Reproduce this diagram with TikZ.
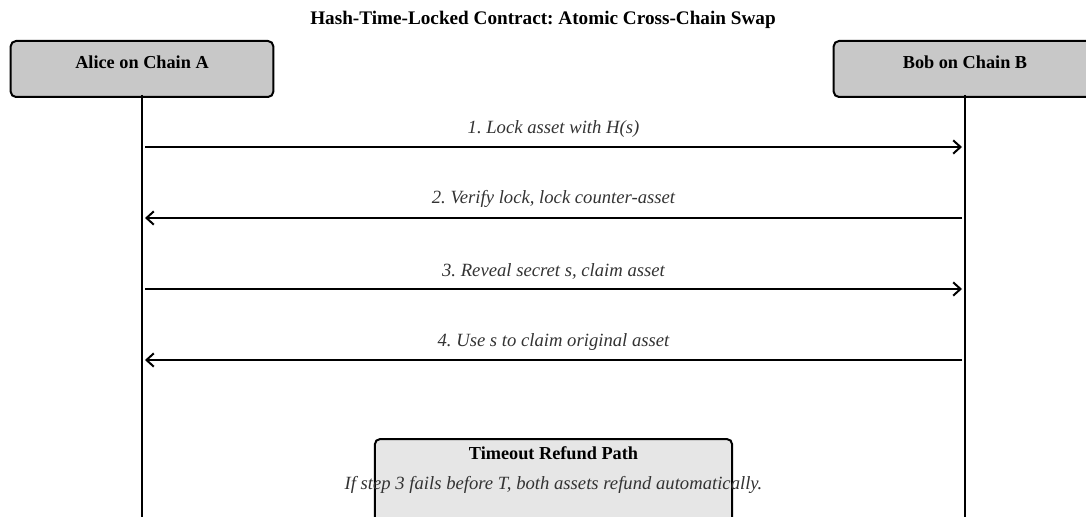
\documentclass[tikz,border=0pt]{standalone}
\usepackage{fontspec}
\setmainfont{Liberation Serif}
\usepackage{xcolor}
\usepackage{tikz}
\usetikzlibrary{arrows.meta,positioning}
\frenchspacing

\definecolor{actorgray}{HTML}{C8C8C8}
\definecolor{notegray}{HTML}{E6E6E6}
\definecolor{msggray}{HTML}{333333}

\begin{document}
\begin{tikzpicture}[
    x=0.75pt, y=-0.75pt,
    actor/.style={rectangle, draw=black, fill=actorgray, line width=1.5pt, rounded corners=4pt, anchor=north, minimum width=197pt, inner ysep=0pt, text height=21pt, text depth=21pt, font=\bfseries\fontsize{13.7}{16}\selectfont},
    note/.style={rectangle, draw=black, fill=notegray, line width=1.5pt, rounded corners=4pt, anchor=north, minimum width=268pt, inner ysep=0pt, text height=15pt, text depth=60pt, font=\bfseries\fontsize{13.7}{16}\selectfont},
    lifeline/.style={line width=1.5pt, draw=black},
    msg/.style={-{Straight Barb[length=5.5pt, width=10pt, line width=1.5pt]}, line width=1.5pt, draw=black, shorten <=2.25pt, shorten >=2.25pt},
    msglabel/.style={midway, above=6.75pt, font=\itshape\fontsize{14}{16}\selectfont, text=msggray, inner sep=0pt}
]
    \clip (0,0) rectangle (1086,517);
    \useasboundingbox (0,0) rectangle (1086,517);

    % title
    \node [font=\bfseries\fontsize{14.4}{17}\selectfont] (title) at (543,20) {Hash-Time-Locked Contract: Atomic Cross-Chain Swap};

    % participants
    \node [actor] (alice) at (142,40) {Alice on Chain A};
    \node [actor] (bob) at (965,40) {Bob on Chain B};

    % lifelines
    \coordinate (aliceEnd) at (142,517);
    \coordinate (bobEnd) at (965,517);
    \draw [lifeline] (alice.south) ++(0,-3) -- (aliceEnd);
    \draw [lifeline] (bob.south) ++(0,-3) -- (bobEnd);

    % message anchors
    \coordinate (a1) at (142,147); \coordinate (b1) at (965,147);
    \coordinate (a2) at (142,218); \coordinate (b2) at (965,218);
    \coordinate (a3) at (142,289); \coordinate (b3) at (965,289);
    \coordinate (a4) at (142,360); \coordinate (b4) at (965,360);

    \draw [msg] (a1) -- node [msglabel] {1. Lock asset with H(s)} (b1);
    \draw [msg] (b2) -- node [msglabel] {2. Verify lock, lock counter-asset} (a2);
    \draw [msg] (a3) -- node [msglabel] {3. Reveal secret s, claim asset} (b3);
    \draw [msg] (b4) -- node [msglabel] {4. Use s to claim original asset} (a4);

    % timeout note
    \node [note] (refund) at (553.5,438) {Timeout Refund Path};
    \node [font=\itshape\fontsize{14}{16}\selectfont, text=msggray] (refundText) at (553.5,484.5) {If step 3 fails before T, both assets refund automatically.};
\end{tikzpicture}
\end{document}
